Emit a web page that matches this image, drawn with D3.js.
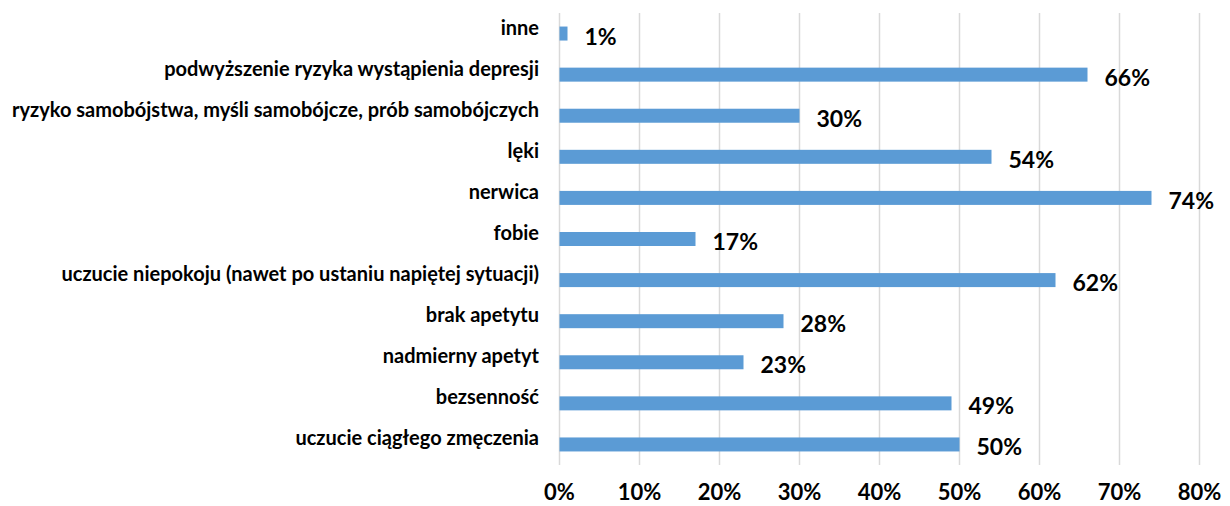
<!DOCTYPE html>
<html lang="pl">
<head>
    <meta charset="utf-8">
    <title>Skutki</title>
    <script type="text/javascript" src="https://cdn.jsdelivr.net/npm/d3@7"></script>
    <style>
        body { margin: 0; background: #fff; }
        text { font-family: Lato, "Open Sans", sans-serif; font-weight: bold; fill: #000; }
    </style>
</head>
<body>
    <script type="text/javascript">

        // dane (od góry)
        var categories = [
            "inne",
            "podwyższenie ryzyka wystąpienia depresji",
            "ryzyko samobójstwa, myśli samobójcze, prób samobójczych",
            "lęki",
            "nerwica",
            "fobie",
            "uczucie niepokoju (nawet po ustaniu napiętej sytuacji)",
            "brak apetytu",
            "nadmierny apetyt",
            "bezsenność",
            "uczucie ciągłego zmęczenia"
        ];
        var values = [0.01, 0.66, 0.30, 0.54, 0.74, 0.17, 0.62, 0.28, 0.23, 0.49, 0.50];
        var ticks = [0, 0.1, 0.2, 0.3, 0.4, 0.5, 0.6, 0.7, 0.8];

        var w = 1230;
        var h = 506;
        var barH = 14;

        var svg = d3.select("body")
            .append("svg")
            .attr("width", w)
            .attr("height", h)

        var x = d3.scaleLinear().domain([0, 0.8]).range([559.5, 1199.5]);
        var y = d3.scaleBand().domain(categories).range([13, 465]).padding(0);

        var fmt = d3.format(".0%");

        // siatka
        svg.append("g")
            .selectAll("line")
            .data(ticks)
            .enter()
            .append("line")
            .attr("x1", function(d){return x(d);})
            .attr("x2", function(d){return x(d);})
            .attr("y1", 13)
            .attr("y2", 465)
            .attr("stroke", "#d9d9d9")
            .attr("stroke-width", 1.5)

        // oś X - etykiety
        svg.append("g")
            .selectAll("text")
            .data(ticks)
            .enter()
            .append("text")
            .attr("x", function(d){return x(d);})
            .attr("y", 500)
            .attr("text-anchor", "middle")
            .style("font-size", "22px")
            .text(function(d){return fmt(d);})

        // słupki
        svg.append("g")
            .selectAll("rect")
            .data(values)
            .enter()
            .append("rect")
            .attr("x", x(0))
            .attr("y", function(d, i){return y(categories[i]) + y.bandwidth()/2 - barH/2;})
            .attr("width", function(d){return x(d) - x(0);})
            .attr("height", barH)
            .attr("fill", "#5b9bd5")

        // kategorie
        svg.append("g")
            .selectAll("text")
            .data(categories)
            .enter()
            .append("text")
            .attr("x", 539)
            .attr("y", function(d){return y(d) + y.bandwidth()/2 + 1;})
            .attr("text-anchor", "end")
            .style("font-size", "20px")
            .text(function(d){return d;})

        // wartości
        svg.append("g")
            .selectAll("text")
            .data(values)
            .enter()
            .append("text")
            .attr("x", function(d){return x(d) + 17;})
            .attr("y", function(d, i){return y(categories[i]) + y.bandwidth()/2 + 11;})
            .style("font-size", "23px")
            .text(function(d){return fmt(d);})

    </script>
</body>
</html>
